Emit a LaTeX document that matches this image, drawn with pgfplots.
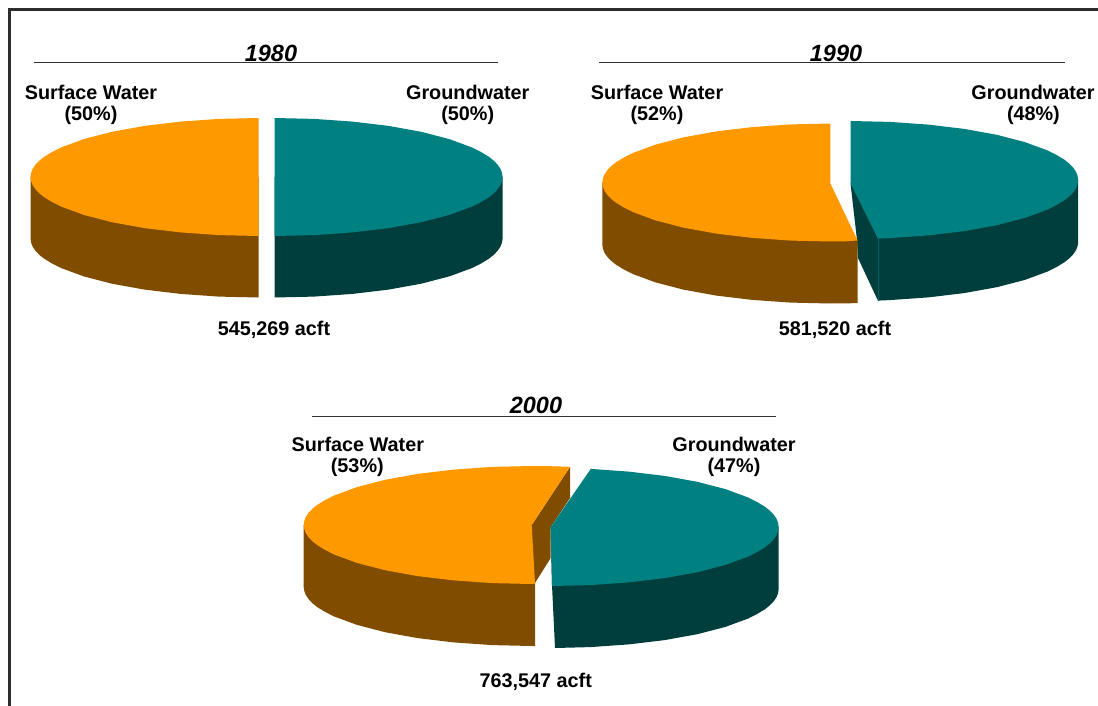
\documentclass[border=0pt]{standalone}
\usepackage{pgfplots}
\pgfplotsset{compat=1.18}
\usepackage{fontspec}
\setmainfont{Liberation Sans}

\definecolor{orangetop}{RGB}{255,153,0}
\definecolor{orangeside}{RGB}{128,77,0}
\definecolor{tealtop}{RGB}{0,128,128}
\definecolor{tealside}{RGB}{0,62,62}
\definecolor{framec}{RGB}{45,45,45}

\newcommand{\lab}[1]{\fontsize{19.8}{21}\selectfont\bfseries #1}
\newcommand{\yr}[1]{\fontsize{23.5}{24}\selectfont\bfseries\itshape #1}

\begin{document}
\begin{tikzpicture}
\begin{axis}[
    scale only axis,
    width=1098pt, height=706pt,
    xmin=0, xmax=1098, ymin=0, ymax=706,
    y dir=reverse,
    hide axis,
    every node/.append style={text=black!90, inner sep=0pt, anchor=center},
]
% hidden axis has no box of its own, this keeps the page full size
\addplot[fill=white, draw=none] coordinates {(0,0) (1098,0) (1098,706) (0,706)} --cycle;
% frame, only left and top are there
\addplot[framec, line width=3pt] coordinates {(9.8,706) (9.8,9.8) (1098,9.8)};

% 1980
\addplot[black!80, line width=1.5pt] coordinates {(34,62.7) (498,62.7)};
\addplot[fill=orangeside, draw=none] coordinates {(30.5,177) (30.5,238.5) (31.1,242.6) (32.7,246.7) (35.5,250.8) (39.3,254.8) (44.2,258.7) (51.9,263.4) (61,268) (83.8,276.4) (111.9,283.7) (144.5,289.6) (180.5,293.9) (218.9,296.6) (258.5,297.5) (258.5,177)} --cycle;
\addplot[fill=orangetop, draw=none] coordinates {(258.5,118) (218.9,118.9) (180.5,121.6) (144.5,125.9) (111.9,131.8) (83.8,139.1) (61,147.5) (51.9,152.1) (44.2,156.8) (39.3,160.7) (35.5,164.7) (32.7,168.8) (31.1,172.9) (30.5,177) (31.1,181.1) (32.7,185.2) (35.5,189.3) (39.3,193.3) (44.2,197.2) (51.9,201.9) (61,206.5) (83.8,214.9) (111.9,222.2) (144.5,228.1) (180.5,232.4) (218.9,235.1) (258.5,236)} --cycle;
\addplot[fill=tealside, draw=none] coordinates {(502.6,177) (502.6,238.5) (502,242.6) (500.4,246.7) (497.6,250.8) (493.8,254.8) (488.9,258.7) (481.2,263.4) (472.1,268) (449.3,276.4) (421.2,283.7) (388.6,289.6) (352.6,293.9) (314.2,296.6) (274.6,297.5) (274.6,177)} --cycle;
\addplot[fill=tealtop, draw=none] coordinates {(274.6,118) (314.2,118.9) (352.6,121.6) (388.6,125.9) (421.2,131.8) (449.3,139.1) (472.1,147.5) (481.2,152.1) (488.9,156.8) (493.8,160.7) (497.6,164.7) (500.4,168.8) (502,172.9) (502.6,177) (502,181.1) (500.4,185.2) (497.6,189.3) (493.8,193.3) (488.9,197.2) (481.2,201.9) (472.1,206.5) (449.3,214.9) (421.2,222.2) (388.6,228.1) (352.6,232.4) (314.2,235.1) (274.6,236)} --cycle;

% 1990
\addplot[black!80, line width=1.5pt] coordinates {(599,62.7) (1064.5,62.7)};
\addplot[fill=tealside, draw=none] coordinates {(1078.2,180) (1078.2,242) (1077.6,246.1) (1076,250.2) (1073.2,254.3) (1069.4,258.3) (1064.5,262.2) (1056.8,266.9) (1047.7,271.5) (1024.9,279.9) (996.8,287.2) (964.2,293.1) (928.2,297.4) (889.8,300.1) (877.9,300.6) (858,258) (857,240) (850.5,183.3)} --cycle;
\addplot[tealtop!55!tealside, line width=0.6pt] coordinates {(877.9,238.6) (877.9,300.6)};
\addplot[fill=tealtop, draw=none] coordinates {(850.5,121) (889.8,121.9) (928.2,124.6) (964.2,128.9) (996.8,134.8) (1024.9,142.1) (1047.7,150.5) (1056.8,155.1) (1064.5,159.8) (1069.4,163.7) (1073.2,167.7) (1076,171.8) (1077.6,175.9) (1078.2,180) (1077.6,184.1) (1076,188.2) (1073.2,192.3) (1069.4,196.3) (1064.5,200.2) (1056.8,204.9) (1047.7,209.5) (1024.9,217.9) (996.8,225.2) (964.2,231.1) (928.2,235.4) (889.8,238.1) (877.9,238.6) (850.5,183.3)} --cycle;
\addplot[fill=orangeside, draw=none] coordinates {(602.3,182.5) (602.3,244.5) (602.9,248.6) (604.5,252.7) (607.3,256.8) (611.1,260.8) (616,264.7) (623.7,269.4) (632.8,274) (655.6,282.4) (683.7,289.7) (716.3,295.6) (752.3,299.9) (790.7,302.6) (830.3,303.5) (844.3,303.4) (857.6,303.1) (857.6,240)} --cycle;
\addplot[fill=orangetop, draw=none] coordinates {(830.3,123.5) (790.7,124.4) (752.3,127.1) (716.3,131.4) (683.7,137.3) (655.6,144.6) (632.8,153) (623.7,157.6) (616,162.3) (611.1,166.2) (607.3,170.2) (604.5,174.3) (602.9,178.4) (602.3,182.5) (602.9,186.6) (604.5,190.7) (607.3,194.8) (611.1,198.8) (616,202.7) (623.7,207.4) (632.8,212) (655.6,220.4) (683.7,227.7) (716.3,233.6) (752.3,237.9) (790.7,240.6) (830.3,241.5) (844.3,241.4) (857.6,240.5) (830.3,183.3)} --cycle;

% 2000
\addplot[black!80, line width=1.5pt] coordinates {(311.7,416.7) (775.7,416.7)};
\addplot[fill=orangeside, draw=none] coordinates {(303.7,525) (303.7,587) (304.3,591.1) (305.9,595.2) (308.7,599.3) (312.5,603.3) (317.4,607.2) (325.1,611.9) (334.2,616.5) (357,624.9) (385.1,632.2) (417.7,638.1) (453.7,642.4) (492.1,645.1) (531.7,646) (535,646) (535,525)} --cycle;
\addplot[fill=orangeside, draw=none] coordinates {(570,467) (531.7,525) (535,583) (550.7,558) (550.7,527) (570,498)} --cycle;
\addplot[fill=orangetop, draw=none] coordinates {(570,466.8) (551,466.2) (531.7,466) (492.1,466.9) (453.7,469.6) (417.7,473.9) (385.1,479.8) (357,487.1) (334.2,495.5) (325.1,500.1) (317.4,504.8) (312.5,508.7) (308.7,512.7) (305.9,516.8) (304.3,520.9) (303.7,525) (304.3,529.1) (305.9,533.2) (308.7,537.3) (312.5,541.3) (317.4,545.2) (325.1,549.9) (334.2,554.5) (357,562.9) (385.1,570.2) (417.7,576.1) (453.7,580.4) (492.1,583.1) (531.7,584) (535,583.5) (531.7,525)} --cycle;
\addplot[fill=tealside, draw=none] coordinates {(778.7,527) (778.7,589) (778.1,593.1) (776.5,597.2) (773.7,601.3) (769.9,605.3) (765,609.2) (757.3,613.9) (748.2,618.5) (725.4,626.9) (697.3,634.2) (664.7,640.1) (628.7,644.4) (590.3,647.1) (555,648) (552,585) (550.7,527)} --cycle;
\addplot[fill=tealtop, draw=none] coordinates {(590.8,468.9) (628.7,471.6) (664.7,475.9) (697.3,481.8) (725.4,489.1) (748.2,497.5) (757.3,502.1) (765,506.8) (769.9,510.7) (773.7,514.7) (776.5,518.8) (778.1,522.9) (778.7,527) (778.1,531.1) (776.5,535.2) (773.7,539.3) (769.9,543.3) (765,547.2) (757.3,551.9) (748.2,556.5) (725.4,564.9) (697.3,572.2) (664.7,578.1) (628.7,582.4) (590.3,585.1) (552,586) (550.7,527)} --cycle;

% texts
\node at (axis cs:271,53) {\yr{1980}};
\node at (axis cs:91,92) {\lab{Surface Water}};
\node at (axis cs:91,115.7) {\lab{(50\%)}};
\node at (axis cs:467.7,92) {\lab{Groundwater}};
\node at (axis cs:467.7,115.7) {\lab{(50\%)}};
\node at (axis cs:274,330) {\lab{545,269 acft}};

\node at (axis cs:836,53) {\yr{1990}};
\node at (axis cs:657,92) {\lab{Surface Water}};
\node at (axis cs:657,115.7) {\lab{(52\%)}};
\node at (axis cs:1033,92) {\lab{Groundwater}};
\node at (axis cs:1033.4,115.7) {\lab{(48\%)}};
\node at (axis cs:835,330) {\lab{581,520 acft}};

\node at (axis cs:536,405.5) {\yr{2000}};
\node at (axis cs:357.8,444.3) {\lab{Surface Water}};
\node at (axis cs:357.3,467.3) {\lab{(53\%)}};
\node at (axis cs:734,444.3) {\lab{Groundwater}};
\node at (axis cs:734,467.3) {\lab{(47\%)}};
\node at (axis cs:535.8,681.7) {\lab{763,547 acft}};
\end{axis}
\end{tikzpicture}
\end{document}
